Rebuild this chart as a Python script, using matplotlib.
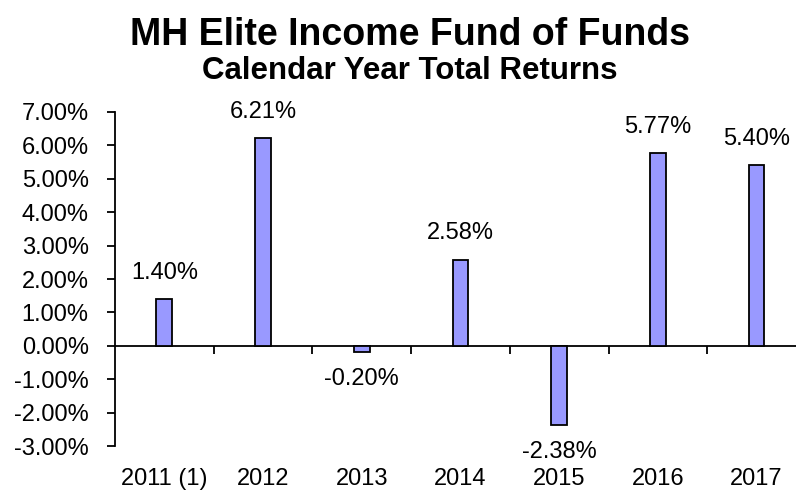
import matplotlib
matplotlib.use("Agg")
import matplotlib.pyplot as plt
import matplotlib.transforms as mtransforms

plt.rcParams['font.family'] = ['Liberation Sans', 'DejaVu Sans']

# chart data
years = ["2011 (1)", "2012", "2013", "2014", "2015", "2016", "2017"]
returns = [1.40, 6.21, -0.20, 2.58, -2.38, 5.77, 5.40]
y_ticks = [-3, -2, -1, 0, 1, 2, 3, 4, 5, 6, 7]

fig = plt.figure(figsize=(7.96, 4.96), dpi=100)
ax = fig.add_axes([0.1445, 0.1008, 0.868, 0.6734])

x = list(range(len(years)))
ax.bar(x, returns, width=0.16, color="#9999FF", edgecolor="black", linewidth=1.3, zorder=3)

# value labels
for xi, v in zip(x, returns):
    off = 19 if v >= 0 else -19
    ax.annotate(f"{v:.2f}%", (xi, v), xytext=(0, off), textcoords="offset points",
                ha="center", va="center", fontsize=17)

ax.set_xlim(-0.5, len(years) - 0.5)
ax.set_ylim(-3, 7)
ax.set_yticks(y_ticks)
ax.set_yticklabels([f"{t:.2f}%" for t in y_ticks], fontsize=17)
ax.tick_params(axis="y", direction="out", length=6, width=1.3, pad=13)

# x axis sits on zero, with ticks between categories
ax.spines["bottom"].set_position(("data", 0))
ax.spines["bottom"].set_linewidth(1.3)
ax.spines["left"].set_linewidth(1.3)
ax.spines["top"].set_visible(False)
ax.spines["right"].set_visible(False)
ax.set_xticks([i + 0.5 for i in range(len(years))])
ax.set_xticklabels([])
ax.tick_params(axis="x", direction="out", length=6, width=1.3)

trans = mtransforms.blended_transform_factory(ax.transData, ax.transAxes)
for xi, lab in zip(x, years):
    ax.text(xi, -0.10, lab, transform=trans, ha="center", va="center", fontsize=17)

fig.text(0.515, 0.909, "MH Elite Income Fund of Funds", ha="center", va="baseline",
         fontsize=27, fontweight="bold")
fig.text(0.515, 0.841, "Calendar Year Total Returns", ha="center", va="baseline",
         fontsize=22.5, fontweight="bold")

fig.savefig("out.png", dpi=100)
